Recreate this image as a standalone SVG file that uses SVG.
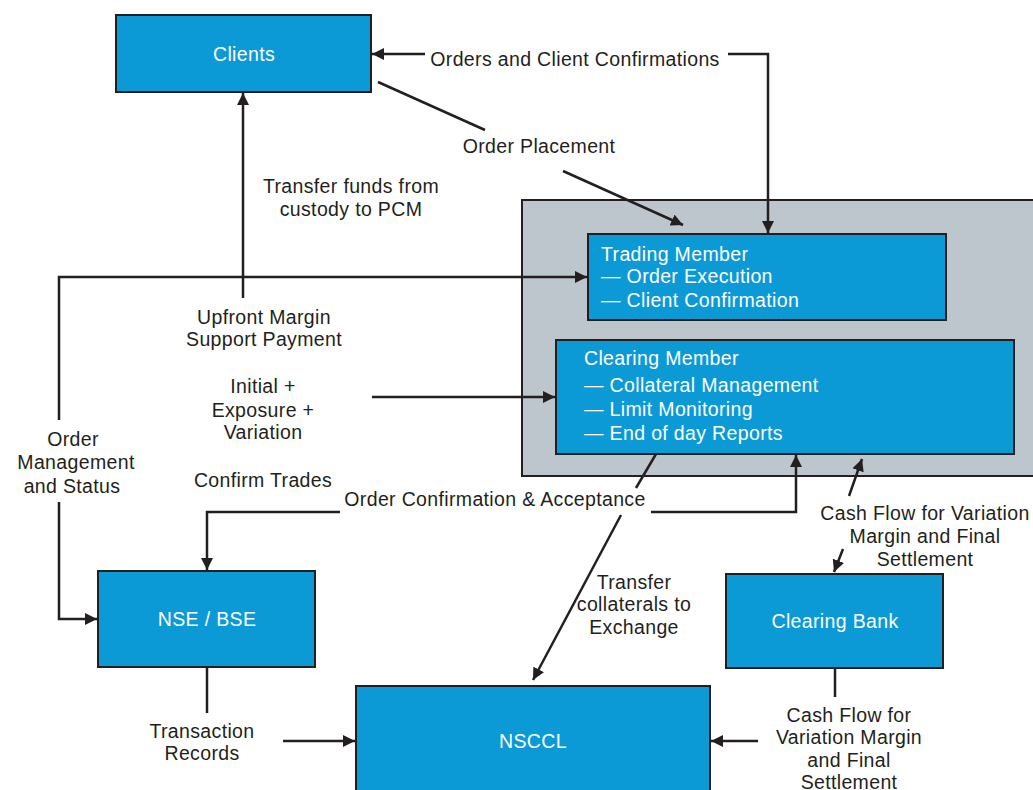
<svg xmlns="http://www.w3.org/2000/svg" width="1033" height="790" viewBox="0 0 1033 790">
<defs>
<marker id="ah" viewBox="0 0 10 10" refX="10" refY="5" markerWidth="12" markerHeight="12" markerUnits="userSpaceOnUse" orient="auto">
<path d="M0,0 L10,5 L0,10 z" fill="#231f20"/>
</marker>
<style>
.box{fill:#0b9ad6;stroke:#231f20;stroke-width:2}
.wt{fill:#ffffff;font-family:"Liberation Sans",Arial,sans-serif;font-size:19.5px;letter-spacing:0.35px}
.lb{fill:#231f20;font-family:"Liberation Sans",Arial,sans-serif;font-size:19.5px;letter-spacing:0.35px;text-anchor:middle}
.ln{fill:none;stroke:#231f20;stroke-width:2.5}
.ar{fill:none;stroke:#231f20;stroke-width:2.5;marker-end:url(#ah)}
</style>
</defs>
<rect width="1033" height="790" fill="#ffffff"/>
<g id="member-container">
<rect x="522" y="200" width="513" height="276" fill="#bcc6cc" stroke="#231f20" stroke-width="2"/>
</g>
<g id="clients">
<rect class="box" x="116" y="15" width="255" height="77"/>
<text class="wt" x="244" y="61" text-anchor="middle">Clients</text>
</g>
<g id="trading-member">
<rect class="box" x="588" y="234" width="358" height="86"/>
<text class="wt" x="601" y="261">Trading Member</text>
<text class="wt" x="601" y="283">— Order Execution</text>
<text class="wt" x="601" y="307">— Client Confirmation</text>
</g>
<g id="clearing-member">
<rect class="box" x="556" y="340" width="458" height="114"/>
<text class="wt" x="584" y="365">Clearing Member</text>
<text class="wt" x="584" y="392">— Collateral Management</text>
<text class="wt" x="584" y="416">— Limit Monitoring</text>
<text class="wt" x="584" y="440">— End of day Reports</text>
</g>
<g id="nse-bse">
<rect class="box" x="98" y="571" width="217" height="96"/>
<text class="wt" x="207" y="626" text-anchor="middle">NSE / BSE</text>
</g>
<g id="clearing-bank">
<rect class="box" x="726" y="574" width="217" height="94"/>
<text class="wt" x="835" y="628" text-anchor="middle">Clearing Bank</text>
</g>
<g id="nsccl">
<rect class="box" x="356" y="686" width="354" height="120"/>
<text class="wt" x="533" y="748" text-anchor="middle">NSCCL</text>
</g>
<g id="connectors">
<path class="ar" d="M425,54 L372,54"/>
<path class="ar" d="M728,54 L768,54 L768,233"/>
<path class="ln" d="M378,82 L485,130"/>
<path class="ar" d="M563,171 L683,225"/>
<path class="ar" d="M243,298 L243,93"/>
<path class="ar" d="M59,420 L59,277 L587,277"/>
<path class="ar" d="M59,502 L59,619 L97,619"/>
<path class="ar" d="M372,397 L555,397"/>
<path class="ar" d="M340,512 L207,512 L207,570"/>
<path class="ar" d="M651,512 L796,512 L796,455"/>
<path class="ln" d="M656,454 L636,488"/>
<path class="ar" d="M621,515 L533,680"/>
<path class="ar" d="M849,496 L862,459"/>
<path class="ar" d="M843,549 L834,572"/>
<path class="ln" d="M835,668 L835,697"/>
<path class="ar" d="M758,741 L711,741"/>
<path class="ln" d="M207,667 L207,713"/>
<path class="ar" d="M283,741 L355,741"/>
</g>
<g id="labels">
<text class="lb" x="575" y="66">Orders and Client Confirmations</text>
<text class="lb" x="539" y="153">Order Placement</text>
<text class="lb" x="351" y="193">Transfer funds from</text>
<text class="lb" x="351" y="216">custody to PCM</text>
<text class="lb" x="264" y="324">Upfront Margin</text>
<text class="lb" x="264" y="346">Support Payment</text>
<text class="lb" x="263" y="393">Initial +</text>
<text class="lb" x="263" y="417">Exposure +</text>
<text class="lb" x="263" y="439">Variation</text>
<text class="lb" x="73" y="446">Order</text>
<text class="lb" x="76" y="469">Management</text>
<text class="lb" x="72" y="493">and Status</text>
<text class="lb" x="263" y="487">Confirm Trades</text>
<text class="lb" x="495" y="506">Order Confirmation &amp; Acceptance</text>
<text class="lb" x="634" y="589">Transfer</text>
<text class="lb" x="634" y="611">collaterals to</text>
<text class="lb" x="634" y="634">Exchange</text>
<text class="lb" x="925" y="520">Cash Flow for Variation</text>
<text class="lb" x="925" y="543">Margin and Final</text>
<text class="lb" x="925" y="566">Settlement</text>
<text class="lb" x="849" y="722">Cash Flow for</text>
<text class="lb" x="849" y="744">Variation Margin</text>
<text class="lb" x="849" y="767">and Final</text>
<text class="lb" x="849" y="789">Settlement</text>
<text class="lb" x="202" y="738">Transaction</text>
<text class="lb" x="202" y="760">Records</text>
</g>
</svg>
